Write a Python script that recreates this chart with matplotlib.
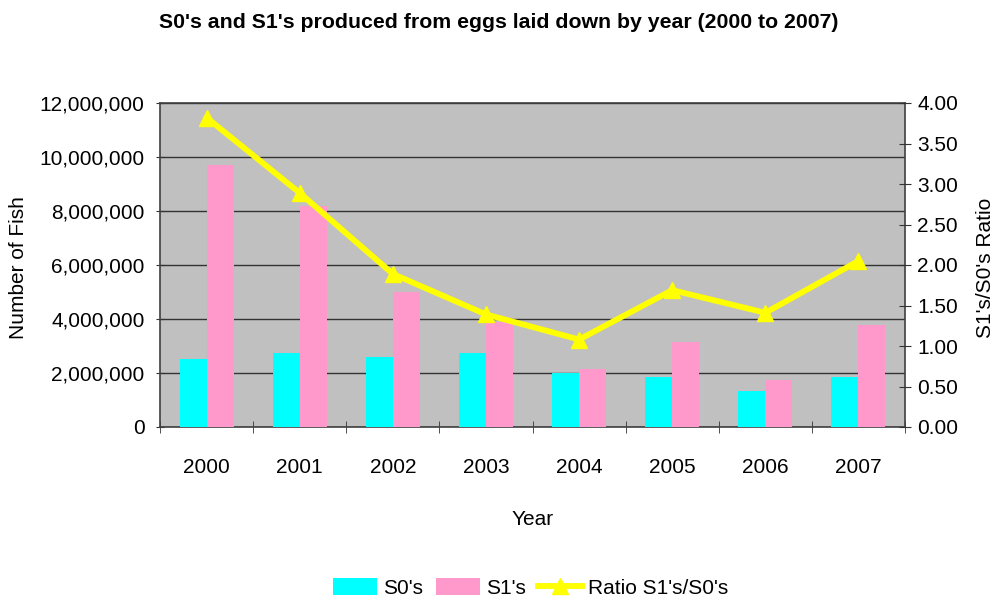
import matplotlib
matplotlib.use("Agg")
import matplotlib.pyplot as plt
import numpy as np
from matplotlib.ticker import FuncFormatter, MultipleLocator

plt.rcParams['font.family'] = ['Liberation Sans', 'DejaVu Sans']

years = ['2000', '2001', '2002', '2003', '2004', '2005', '2006', '2007']
s0 = [2530000, 2740000, 2590000, 2740000, 2000000, 1840000, 1320000, 1840000]
s1 = [9700000, 8200000, 5010000, 3880000, 2150000, 3160000, 1750000, 3780000]
ratio = [3.82, 2.89, 1.89, 1.39, 1.08, 1.69, 1.41, 2.05]

fig = plt.figure(figsize=(9.97, 6.01), dpi=100)
ax = fig.add_axes([160/997, 1 - 427/601, 745/997, 324/601])
ax.set_facecolor('#C0C0C0')

x = np.arange(len(years))
w = 0.29
ax.bar(x - w/2, s0, w, color='#00FFFF', label="S0's", zorder=3)
ax.bar(x + w/2, s1, w, color='#FF99CC', label="S1's", zorder=3)

ax.set_xlim(-0.5, len(years) - 0.5)
ax.set_ylim(0, 12000000)
ax.yaxis.set_major_locator(MultipleLocator(2000000))
ax.yaxis.set_major_formatter(FuncFormatter(lambda v, p: f"{int(v):,}"))
ax.grid(axis='y', color='#333333', linewidth=1.0, zorder=1)
ax.set_axisbelow(True)

fs = 15
ax.set_xticks(x)
ax.set_xticklabels(years)
ax.set_xticks(np.arange(-0.5, len(years)), minor=True)
ax.tick_params(axis='x', which='major', length=0, pad=22, labelsize=fs)
ax.tick_params(axis='x', which='minor', length=8, direction='inout', color='#333333')
ax.tick_params(axis='y', labelsize=fs, length=6, direction='inout', color='#333333', pad=8)

for s in ax.spines.values():
    s.set_color('#404040')
    s.set_linewidth(1.2)

ax2 = ax.twinx()
ax2.plot(x, ratio, color='#FFFF00', linewidth=4.2, marker='^', markersize=12,
         label="Ratio S1's/S0's", zorder=5)
ax2.set_ylim(0, 4)
ax2.yaxis.set_major_locator(MultipleLocator(0.5))
ax2.yaxis.set_major_formatter(FuncFormatter(lambda v, p: f"{v:.2f}"))
ax2.tick_params(axis='y', labelsize=fs, length=8, direction='inout', color='#333333', pad=5)
for s in ax2.spines.values():
    s.set_visible(False)

ax.set_xlabel('Year', fontsize=fs, labelpad=24)
fig.text(19/997, 1 - 268/601, 'Number of Fish', rotation=90, ha='center', va='center', fontsize=fs)
fig.text(985/997, 1 - 268/601, "S1's/S0's Ratio", rotation=90, ha='center', va='center', fontsize=fs)

fig.text(0.5, 1 - 22/601, "S0's and S1's produced from eggs laid down by year (2000 to 2007)",
         ha='center', va='center', fontsize=15.3, fontweight='bold')

h1, l1 = ax.get_legend_handles_labels()
h2, l2 = ax2.get_legend_handles_labels()
fig.legend(h1 + h2, l1 + l2, loc='center', bbox_to_anchor=(531/997, 1 - 588/601),
           ncol=3, frameon=False, fontsize=fs, handlelength=2.1, handleheight=0.9,
           columnspacing=0.6, handletextpad=0.3)

fig.savefig('out.png', dpi=100)
